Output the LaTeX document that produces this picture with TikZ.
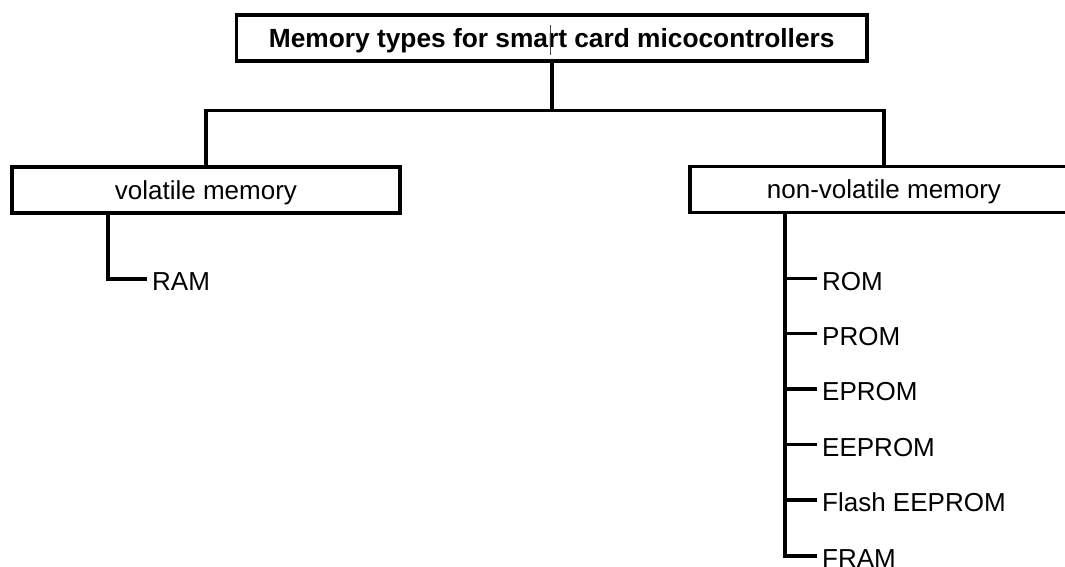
\documentclass[tikz,border=0pt]{standalone}
\usepackage{fontspec}
\setmainfont{Liberation Sans}
\begin{document}
\begin{tikzpicture}[x=1pt,y=-1pt,
  line join=miter,
  boxnode/.style={draw=black, line width=3.8pt, fill=white, inner sep=0pt,
    minimum width=388pt, minimum height=46pt, text height=18.6pt, text depth=0pt,
    font=\fontsize{26}{30}\selectfont},
  itemnode/.style={anchor=west, inner sep=0pt, text height=23pt, text depth=0pt,
    font=\fontsize{26}{30}\selectfont},
  conn/.style={line width=3.8pt, black}]
\useasboundingbox (0,0) rectangle (1065,566);
\clip (0,0) rectangle (1065,566);
\fill[white] (0,0) rectangle (1065,566);

% top box
\node[boxnode, minimum width=630.5pt, text height=19pt, font=\bfseries\fontsize{26.3}{30}\selectfont] (top) at (551.75,38.3) {Memory types for smart card micocontrollers};
\node[boxnode] (vol) at (206,190) {volatile memory};
\node[boxnode] (nvol) at (884,189.5) {non-volatile memory};

% tree connectors
\coordinate (hub) at (551.75,110.5);
\draw[conn] (top.south) -- (hub);
\draw[conn] (hub) -| (vol.north);
\draw[conn] (hub) -| (nvol.north);

% cursor artifact
\draw[line width=1pt, black!75] (550.6,25) -- (550.6,55);

% volatile branch
\node[itemnode] (ram) at (152,279) {RAM};
\coordinate (vtrunk) at (108,212);
\draw[conn] (vtrunk) |- ([xshift=-5pt]ram.west);

% non-volatile branch
\node[itemnode] (rom) at (822,278.5) {ROM};
\node[itemnode] (prom) at (822,333.5) {PROM};
\node[itemnode] (eprom) at (822,389) {EPROM};
\node[itemnode] (eeprom) at (822,444.5) {EEPROM};
\node[itemnode] (flash) at (822,500) {Flash EEPROM};
\node[itemnode] (fram) at (822,556) {FRAM};
\coordinate (nvtrunk) at (785,212);
\draw[conn] (nvtrunk) |- ([xshift=-5pt]fram.west);
\foreach \n in {rom,prom,eprom,eeprom,flash}
  \draw[conn] (\n.west -| nvtrunk) -- ([xshift=-5pt]\n.west);
\end{tikzpicture}
\end{document}
